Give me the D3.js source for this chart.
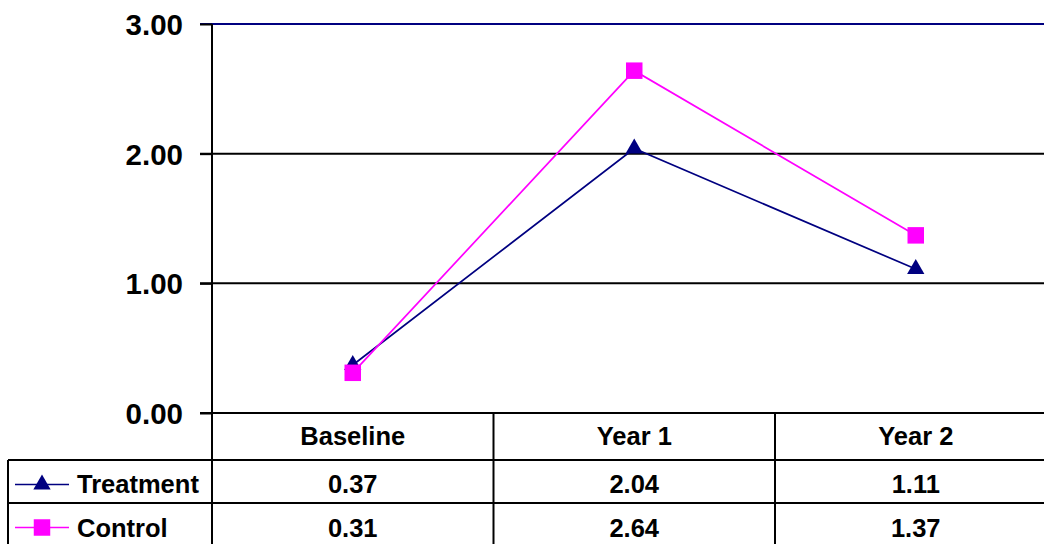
<!DOCTYPE html>
<html>
<head>
<meta charset="utf-8">
<script src="https://cdn.jsdelivr.net/npm/d3@7"></script>
<style>
  html, body { margin: 0; padding: 0; background: #fff; }
  svg { display: block; font-family: "Liberation Sans", Arial, sans-serif; font-weight: bold; }
</style>
</head>
<body>
<svg id="chart" width="1044" height="544"></svg>
<script>
// Chart data
const categories = ["Baseline", "Year 1", "Year 2"];
const treatment = [0.37, 2.04, 1.11];
const control = [0.31, 2.64, 1.37];
const seriesNames = ["Treatment", "Control"];
const yTicks = [0, 1, 2, 3];

const W = 1044, H = 544;
const plotLeft = 212, plotRight = 1056.5, plotTop = 24, plotBottom = 413;
const tableRows = [413, 460, 503, 546];
const tableFont = 25.5;

const svg = d3.select("#chart");

const x = d3.scaleBand().domain(categories).range([plotLeft, plotRight]);
const y = d3.scaleLinear().domain([0, 3]).range([plotBottom, plotTop]);

// Horizontal gridlines with outward tick marks
svg.append("g").selectAll("line")
  .data(yTicks.filter(d => d > 0))
  .join("line")
  .attr("x1", plotLeft - 12).attr("x2", W)
  .attr("y1", d => y(d)).attr("y2", d => y(d))
  .attr("stroke", d => d === 3 ? "#000080" : "#000")
  .attr("stroke-width", 2);

// Y axis
const yAxis = d3.axisLeft(y).tickValues(yTicks).tickSize(12).tickPadding(17).tickFormat(d3.format(".2f"));
const gy = svg.append("g").attr("transform", `translate(${plotLeft},0)`).call(yAxis);
gy.select(".domain").remove();
gy.selectAll(".tick line").attr("stroke", "#000").attr("stroke-width", 2);
gy.selectAll(".tick text")
  .attr("font-size", 29.5).attr("font-weight", "bold")
  .attr("font-family", "'Liberation Sans', Arial, sans-serif")
  .attr("fill", "#000").attr("dy", "0.36em");
svg.append("line")
  .attr("x1", plotLeft).attr("x2", plotLeft)
  .attr("y1", plotTop).attr("y2", H)
  .attr("stroke", "#000").attr("stroke-width", 2);
// bottom of plot / top of table
svg.append("line")
  .attr("x1", plotLeft - 12).attr("x2", W)
  .attr("y1", plotBottom).attr("y2", plotBottom)
  .attr("stroke", "#000").attr("stroke-width", 2);

// Data table grid
const tbl = svg.append("g").attr("stroke", "#000").attr("stroke-width", 2);
[tableRows[1], tableRows[2]].forEach(ry => {
  tbl.append("line").attr("x1", 8).attr("x2", W).attr("y1", ry).attr("y2", ry);
});
tbl.append("line").attr("x1", 8).attr("x2", 8).attr("y1", tableRows[1]).attr("y2", H);
categories.slice(1).forEach(c => {
  tbl.append("line").attr("x1", x(c)).attr("x2", x(c)).attr("y1", plotBottom).attr("y2", H);
});

// Header labels
svg.append("g").selectAll("text")
  .data(categories).join("text")
  .attr("x", d => x(d) + x.bandwidth() / 2)
  .attr("y", 445)
  .attr("text-anchor", "middle")
  .attr("font-size", tableFont)
  .text(d => d);

const series = [
  { name: seriesNames[0], values: treatment, color: "#000080", symbol: d3.symbolTriangle, size: 130, rowBase: 492.5, rowMid: 484.5 },
  { name: seriesNames[1], values: control, color: "#FF00FF", symbol: d3.symbolSquare, size: 272, rowBase: 536.5, rowMid: 527.5 }
];

const line = d3.line().x((d, i) => x(categories[i]) + x.bandwidth() / 2).y(d => y(d));

series.forEach(s => {
  // Series line
  svg.append("path")
    .datum(s.values)
    .attr("d", line)
    .attr("fill", "none")
    .attr("stroke", s.color)
    .attr("stroke-width", 1.7);
  // Markers
  svg.append("g").selectAll("path")
    .data(s.values).join("path")
    .attr("transform", (d, i) => `translate(${x(categories[i]) + x.bandwidth() / 2},${y(d)})`)
    .attr("d", d3.symbol(s.symbol, s.size))
    .attr("fill", s.color);
  // Legend key in table
  svg.append("line")
    .attr("x1", 15).attr("x2", 69)
    .attr("y1", s.rowMid).attr("y2", s.rowMid)
    .attr("stroke", s.color).attr("stroke-width", 1.7);
  svg.append("path")
    .attr("transform", `translate(42,${s.rowMid})`)
    .attr("d", d3.symbol(s.symbol, s.size))
    .attr("fill", s.color);
  svg.append("text")
    .attr("x", 77).attr("y", s.rowBase)
    .attr("font-size", tableFont)
    .text(s.name);
  // Values
  svg.append("g").selectAll("text")
    .data(s.values).join("text")
    .attr("x", (d, i) => x(categories[i]) + x.bandwidth() / 2)
    .attr("y", s.rowBase)
    .attr("text-anchor", "middle")
    .attr("font-size", tableFont)
    .text(d => d3.format(".2f")(d));
});
</script>
</body>
</html>
